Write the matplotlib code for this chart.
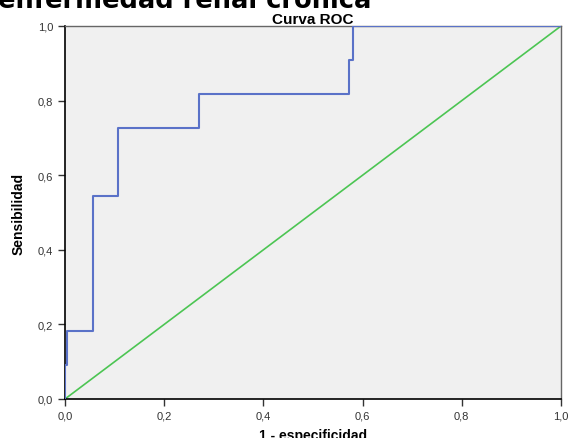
import numpy as np
import matplotlib.pyplot as plt

plt.rcParams['font.family'] = ['Liberation Sans', 'DejaVu Sans']

# ROC curve steps
fpr = [0.0, 0.0, 0.005, 0.005, 0.056, 0.056, 0.107, 0.107, 0.27, 0.27, 0.573, 0.573, 0.58, 0.58, 1.0]
tpr = [0.0, 0.091, 0.091, 0.182, 0.182, 0.545, 0.545, 0.727, 0.727, 0.818, 0.818, 0.909, 0.909, 1.0, 1.0]
ref_line = [0.0, 1.0]
ticks = [0.0, 0.2, 0.4, 0.6, 0.8, 1.0]
tick_labels = ['0,0', '0,2', '0,4', '0,6', '0,8', '1,0']

W, H = 569, 439
fig = plt.figure(figsize=(W / 100, H / 100), dpi=100)
ax = fig.add_axes([65 / W, 1 - 400 / H, 496 / W, 373 / H])
ax.set_facecolor('#f0f0f0')

ax.plot(ref_line, ref_line, color='#4cc553', linewidth=1.2, zorder=2)
ax.plot(fpr, tpr, color='#5a72c8', linewidth=1.5, zorder=3)

ax.set_xlim(0, 1)
ax.set_ylim(0, 1)
ax.set_xticks(ticks)
ax.set_xticklabels(tick_labels)
ax.set_yticks(ticks)
ax.set_yticklabels(tick_labels)
ax.tick_params(labelsize=8, length=5, width=1, direction='out', colors='#333333')

for side in ['left', 'bottom']:
    ax.spines[side].set_color('black')
    ax.spines[side].set_linewidth(1.2)
for side in ['top', 'right']:
    ax.spines[side].set_color('#666666')
    ax.spines[side].set_linewidth(1.0)

ax.set_xlabel('1 - especificidad', fontsize=10, fontweight='bold', labelpad=5)
ax.set_ylabel('Sensibilidad', fontsize=10, fontweight='bold', labelpad=9)
ax.set_title('Curva ROC', fontsize=11, fontweight='bold', pad=2)

fig.text(-2 / W, 1 - 8 / H, 'enfermedad renal crónica', fontsize=18.5,
         fontweight='bold', family=['DejaVu Sans'], va='baseline', ha='left')

fig.savefig('out.png', dpi=100)
